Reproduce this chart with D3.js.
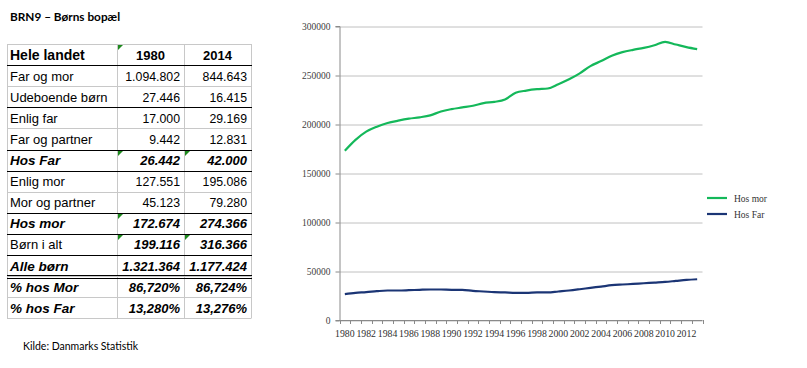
<!DOCTYPE html>
<html>
<head>
<meta charset="utf-8">
<script src="https://cdn.jsdelivr.net/npm/d3@7"></script>
<style>
  html, body { margin: 0; padding: 0; background: #ffffff; }
  svg { display: block; }
</style>
</head>
<body>
<svg id="chart" width="807" height="368"></svg>
<script>
// ---------- DATA ----------
const title = "BRN9 – Børns bopæl";
const source = "Kilde: Danmarks Statistik";

const tableHeader = ["Hele landet", "1980", "2014"];
const rowLabels = ["Far og mor", "Udeboende børn", "Enlig far", "Far og partner", "Hos Far",
  "Enlig mor", "Mor og partner", "Hos mor", "Børn i alt", "Alle børn", "% hos Mor", "% hos Far"];
const values1980 = ["1.094.802", "27.446", "17.000", "9.442", "26.442", "127.551", "45.123",
  "172.674", "199.116", "1.321.364", "86,720%", "13,280%"];
const values2014 = ["844.643", "16.415", "29.169", "12.831", "42.000", "195.086", "79.280",
  "274.366", "316.366", "1.177.424", "86,724%", "13,276%"];
// rows whose label is bold italic / whose values are bold italic
const boldLabelRows = ["Hos Far", "Hos mor", "Alle børn", "% hos Mor", "% hos Far"];
const boldValueRows = ["Hos Far", "Hos mor", "Børn i alt", "Alle børn", "% hos Mor", "% hos Far"];
// rows followed by a dark rule
const darkRuleAfter = ["Udeboende børn", "Far og partner", "Hos Far", "Mor og partner", "Hos mor", "Børn i alt"];
const doubleRuleAfter = ["Alle børn"];

const years = d3.range(1980, 2014);
const hosMor = [172674, 183800, 192200, 197300, 201000, 203400, 205400, 206800, 208800, 212800,
  215200, 216900, 218600, 221300, 222600, 225000, 231900, 234100, 235500, 236200,
  240600, 245600, 251700, 259100, 264200, 269600, 273300, 275700, 277700, 280400,
  283800, 281100, 278400, 276400];
const hosFar = [26442, 27700, 28400, 29400, 30100, 30100, 30400, 30800, 31100, 31100,
  30800, 30800, 29700, 29100, 28400, 28100, 27700, 27700, 28100, 28100,
  29100, 30100, 31400, 32800, 34100, 35500, 36200, 36800, 37500, 38200,
  38900, 39900, 40900, 41600];
const seriesNames = ["Hos mor", "Hos Far"];
const yTicks = [0, 50000, 100000, 150000, 200000, 250000, 300000];
const xLabelYears = years.filter(y => (y - 1980) % 2 === 0);

// ---------- DRAW ----------
const svg = d3.select("#chart");
svg.append("rect").attr("width", 807).attr("height", 368).attr("fill", "#ffffff");

// Title + source
svg.append("text").attr("x", 10).attr("y", 21)
  .attr("font-family", "Lato, 'Open Sans', sans-serif").attr("font-weight", "bold")
  .attr("font-size", 11.8).attr("fill", "#000").text(title);
svg.append("text").attr("x", 23).attr("y", 350)
  .attr("font-family", "Lato, 'Open Sans', sans-serif")
  .attr("font-size", 10.5).attr("fill", "#000").text(source);

// Table
const tX0 = 7, tX1 = 117, tX2 = 184, tX3 = 251;
const tTop = 44, rowH = 21.1;
const nRows = rowLabels.length + 1;
const tBottom = tTop + nRows * rowH;
const tg = svg.append("g");
const tableFont = "'Liberation Sans', Arial, sans-serif";

// light grid
const hLines = d3.range(nRows + 1);
tg.selectAll("line.h").data(hLines).join("line")
  .attr("x1", tX0).attr("x2", tX3)
  .attr("y1", i => Math.round(tTop + i * rowH) + 0.5)
  .attr("y2", i => Math.round(tTop + i * rowH) + 0.5)
  .attr("stroke", "#c8c8c8").attr("stroke-width", 1);
tg.selectAll("line.v").data([tX0, tX1, tX2, tX3]).join("line")
  .attr("x1", d => d + 0.5).attr("x2", d => d + 0.5)
  .attr("y1", tTop).attr("y2", Math.round(tBottom) + 0.5)
  .attr("stroke", "#c8c8c8").attr("stroke-width", 1);

// dark rules
const darkIdx = [0].concat(rowLabels.map((r, i) => darkRuleAfter.includes(r) ? i + 1 : -1).filter(i => i >= 0));
tg.selectAll("line.dark").data(darkIdx).join("line")
  .attr("x1", tX0).attr("x2", tX3 + 1)
  .attr("y1", i => Math.round(tTop + (i + 1) * rowH) + 0.5)
  .attr("y2", i => Math.round(tTop + (i + 1) * rowH) + 0.5)
  .attr("stroke", "#000").attr("stroke-width", 1.2);
const dblIdx = rowLabels.map((r, i) => doubleRuleAfter.includes(r) ? i + 1 : -1).filter(i => i >= 0);
dblIdx.forEach(i => {
  const yy = Math.round(tTop + (i + 1) * rowH);
  [yy - 0.5, yy + 2.5].forEach(v => tg.append("line")
    .attr("x1", tX0).attr("x2", tX3 + 1).attr("y1", v).attr("y2", v)
    .attr("stroke", "#000").attr("stroke-width", 1.1));
});

// header
tg.append("text").attr("x", tX0 + 3).attr("y", tTop + 16)
  .attr("font-family", tableFont).attr("font-weight", "bold").attr("font-size", 14)
  .attr("fill", "#000").text(tableHeader[0]);
[[tableHeader[1], (tX1 + tX2) / 2], [tableHeader[2], (tX2 + tX3) / 2]].forEach(([t, cx]) =>
  tg.append("text").attr("x", cx).attr("y", tTop + 16).attr("text-anchor", "middle")
    .attr("font-family", tableFont).attr("font-weight", "bold").attr("font-size", 13)
    .attr("fill", "#000").text(t));

// rows
rowLabels.forEach((lab, i) => {
  const by = tTop + (i + 1) * rowH + 15.5;
  const bl = boldLabelRows.includes(lab);
  const bv = boldValueRows.includes(lab);
  tg.append("text").attr("x", tX0 + 3).attr("y", by)
    .attr("font-family", tableFont).attr("font-size", bl ? 13.5 : 13)
    .attr("font-weight", bl ? "bold" : "normal").attr("font-style", bl ? "italic" : "normal")
    .attr("fill", "#000").text(lab);
  [[values1980[i], tX2 - 4], [values2014[i], tX3 - 4]].forEach(([v, rx]) =>
    tg.append("text").attr("x", rx).attr("y", by).attr("text-anchor", "end")
      .attr("font-family", tableFont).attr("font-size", bv ? 13 : 12.3)
      .attr("font-weight", bv ? "bold" : "normal").attr("font-style", bv ? "italic" : "normal")
      .attr("fill", "#000").text(v));
});

// green error-indicator triangles (row index: -1 header, col: 1 or 2)
const markers = [[-1, 1], [4, 1], [4, 2], [7, 1], [8, 1], [8, 2]];
tg.selectAll("path.tri").data(markers).join("path")
  .attr("d", ([r, c]) => {
    const x0 = (c === 1 ? tX1 : tX2) + 1;
    const y0 = Math.round(tTop + (r + 1) * rowH) + 1;
    return `M${x0},${y0}L${x0 + 5},${y0}L${x0},${y0 + 5}Z`;
  })
  .attr("fill", "#1e8a1e");

// ---------- LINE CHART ----------
const pl = 339.5, pr = 702.5, pt = 26, pb = 320;
const x = d3.scaleBand().domain(years).range([pl, pr]);
const y = d3.scaleLinear().domain([0, 300000]).range([pb, pt]);
const axisFont = "'Liberation Serif', 'Times New Roman', serif";
const cg = svg.append("g");

// gridlines
cg.append("g").attr("transform", `translate(${pl},0)`)
  .call(d3.axisLeft(y).tickValues(yTicks).tickSize(-(pr - pl)).tickFormat(""))
  .call(g => g.select(".domain").remove())
  .call(g => g.selectAll(".tick line").attr("stroke", "#c0c0c0").attr("stroke-width", 1)
    .attr("transform", "translate(0,0.5)"));

// y axis
cg.append("g").attr("transform", `translate(${pl},0)`)
  .call(d3.axisLeft(y).tickValues(yTicks).tickSize(4).tickPadding(5).tickFormat(d => String(d)))
  .call(g => g.select(".domain").attr("stroke", "#8a8a8a"))
  .call(g => g.selectAll(".tick line").attr("stroke", "#8a8a8a").attr("transform", "translate(0,0.5)"))
  .call(g => g.selectAll(".tick text").attr("font-family", axisFont).attr("font-size", 9.5)
    .attr("fill", "#404040"));

// x axis: baseline, tick marks at category boundaries, labels every other year
cg.append("line").attr("x1", pl).attr("x2", pr).attr("y1", pb + 0.5).attr("y2", pb + 0.5)
  .attr("stroke", "#8a8a8a");
const boundaries = years.map(d => x(d)).concat([pr]);
cg.selectAll("line.xt").data(boundaries).join("line")
  .attr("x1", d => Math.round(d) + 0.5).attr("x2", d => Math.round(d) + 0.5)
  .attr("y1", pb).attr("y2", pb + 4).attr("stroke", "#8a8a8a");
cg.append("g").attr("transform", `translate(0,${pb})`)
  .call(d3.axisBottom(x).tickValues(xLabelYears).tickSize(0).tickPadding(10).tickFormat(d => String(d)))
  .call(g => g.select(".domain").remove())
  .call(g => g.selectAll(".tick text").attr("font-family", axisFont).attr("font-size", 9.8)
    .attr("fill", "#303030"));

// lines
const colors = ["#14b85a", "#1b3575"];
const line = d3.line().x((d, i) => x(years[i]) + x.bandwidth() / 2).y(d => y(d))
  .curve(d3.curveMonotoneX);
[hosMor, hosFar].forEach((s, k) => cg.append("path").datum(s)
  .attr("d", line).attr("fill", "none").attr("stroke", colors[k])
  .attr("stroke-width", 2.2).attr("stroke-linejoin", "round"));

// legend
const legY = [198, 214];
seriesNames.forEach((n, k) => {
  cg.append("line").attr("x1", 707).attr("x2", 727).attr("y1", legY[k]).attr("y2", legY[k])
    .attr("stroke", colors[k]).attr("stroke-width", 2.2);
  cg.append("text").attr("x", 734).attr("y", legY[k] + 3.5)
    .attr("font-family", axisFont).attr("font-size", 9.5).attr("fill", "#333").text(n);
});
</script>
</body>
</html>
